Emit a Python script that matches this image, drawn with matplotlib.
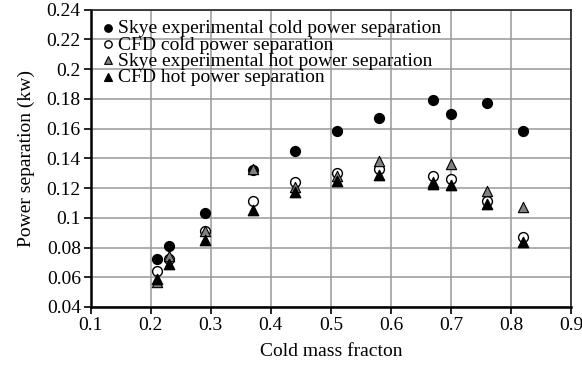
import matplotlib.pyplot as plt

plt.rcParams['font.family'] = ['Liberation Serif', 'DejaVu Serif']

cold_fraction = [0.21, 0.23, 0.29, 0.37, 0.44, 0.51, 0.58, 0.67, 0.70, 0.76, 0.82]
skye_cold = [0.072, 0.081, 0.103, 0.132, 0.145, 0.158, 0.167, 0.179, 0.170, 0.177, 0.158]
cfd_cold = [0.064, 0.072, 0.091, 0.111, 0.124, 0.130, 0.133, 0.128, 0.126, 0.111, 0.087]
skye_hot = [0.057, 0.074, 0.091, 0.133, 0.121, 0.128, 0.138, 0.124, 0.136, 0.118, 0.107]
cfd_hot = [0.059, 0.069, 0.085, 0.105, 0.117, 0.125, 0.129, 0.123, 0.122, 0.109, 0.084]

fig = plt.figure(figsize=(5.82, 3.67), dpi=100)
ax = fig.add_axes([0.1555, 0.1635, 0.826, 0.8105])

ax.scatter(cold_fraction, skye_cold, marker='o', s=50, c='black', edgecolors='black',
           label='Skye experimental cold power separation', zorder=3)
ax.scatter(cold_fraction, cfd_cold, marker='o', s=50, c='white', edgecolors='black',
           linewidths=1.0, label='CFD cold power separation', zorder=4)
ax.scatter(cold_fraction, skye_hot, marker='^', s=55, c='#808080', edgecolors='black',
           linewidths=0.8, label='Skye experimental hot power separation', zorder=5)
ax.scatter(cold_fraction, cfd_hot, marker='^', s=55, c='black', edgecolors='black',
           label='CFD hot power separation', zorder=6)

ax.set_xlim(0.1, 0.9)
ax.set_ylim(0.04, 0.24)
ax.set_xticks([0.1, 0.2, 0.3, 0.4, 0.5, 0.6, 0.7, 0.8, 0.9])
ax.set_xticklabels(['0.1', '0.2', '0.3', '0.4', '0.5', '0.6', '0.7', '0.8', '0.9'])
ax.set_yticks([0.04, 0.06, 0.08, 0.1, 0.12, 0.14, 0.16, 0.18, 0.2, 0.22, 0.24])
ax.set_yticklabels(['0.04', '0.06', '0.08', '0.1', '0.12', '0.14', '0.16', '0.18', '0.2', '0.22', '0.24'])
ax.tick_params(labelsize=14, length=5, width=1.2, direction='out', pad=2)
ax.grid(True, color='#999999', linewidth=1.1)
ax.set_axisbelow(True)
for side in ['left', 'bottom']:
    ax.spines[side].set_linewidth(1.8)
for side in ['right', 'top']:
    ax.spines[side].set_linewidth(1.2)
    ax.spines[side].set_color('#222222')

ax.set_xlabel('Cold mass fracton', fontsize=14, labelpad=7)
ax.set_ylabel('Power separation (kw)', fontsize=14, labelpad=8)

ax.legend(loc='upper left', frameon=False, fontsize=14, handletextpad=0.1,
          labelspacing=-0.08, borderaxespad=0.1, handlelength=0.8,
          markerscale=0.75, bbox_to_anchor=(0.0, 0.998))

fig.savefig('out.png', dpi=100)
